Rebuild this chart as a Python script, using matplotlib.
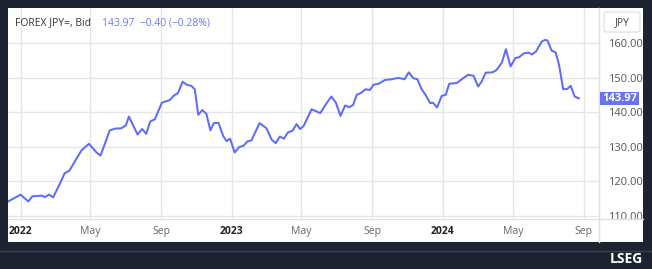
import matplotlib
matplotlib.use('Agg')
import pandas as pd
import matplotlib.pyplot as plt
from matplotlib.patches import Rectangle, FancyBboxPatch
from matplotlib.lines import Line2D

# weekly bid quotes
dates = ['2021-12-10', '2022-01-01', '2022-01-14', '2022-01-21', '2022-02-06', '2022-02-12',
         '2022-02-19', '2022-02-26', '2022-03-09', '2022-03-18', '2022-03-26', '2022-04-16',
         '2022-04-29', '2022-05-12', '2022-05-19', '2022-06-04', '2022-06-13', '2022-06-24',
         '2022-07-02', '2022-07-07', '2022-07-22', '2022-07-30', '2022-08-06', '2022-08-13',
         '2022-08-21', '2022-09-02', '2022-09-16', '2022-09-23', '2022-09-30', '2022-10-08',
         '2022-10-15', '2022-10-23', '2022-10-29', '2022-11-04', '2022-11-11', '2022-11-18',
         '2022-11-25', '2022-12-01', '2022-12-09', '2022-12-17', '2022-12-23', '2022-12-29',
         '2023-01-06', '2023-01-14', '2023-01-21', '2023-01-28', '2023-02-04', '2023-02-18',
         '2023-03-02', '2023-03-11', '2023-03-18', '2023-03-25', '2023-04-01', '2023-04-08',
         '2023-04-16', '2023-04-23', '2023-04-29', '2023-05-05', '2023-05-19', '2023-06-03',
         '2023-06-14', '2023-06-22', '2023-06-30', '2023-07-08', '2023-07-16', '2023-07-23',
         '2023-07-30', '2023-08-05', '2023-08-13', '2023-08-20', '2023-08-28', '2023-09-03',
         '2023-09-12', '2023-09-23', '2023-10-04', '2023-10-16', '2023-10-27', '2023-11-03',
         '2023-11-11', '2023-11-18', '2023-11-25', '2023-12-02', '2023-12-10', '2023-12-15',
         '2023-12-22', '2023-12-30', '2024-01-06', '2024-01-12', '2024-01-25', '2024-02-05',
         '2024-02-14', '2024-02-23', '2024-03-02', '2024-03-08', '2024-03-15', '2024-03-27',
         '2024-04-03', '2024-04-12', '2024-04-19', '2024-04-27', '2024-05-05', '2024-05-12',
         '2024-05-20', '2024-05-28', '2024-06-03', '2024-06-10', '2024-06-20', '2024-06-26',
         '2024-06-30', '2024-07-07', '2024-07-14', '2024-07-20', '2024-07-27', '2024-08-03',
         '2024-08-09', '2024-08-16', '2024-08-23']
bid = [114.1, 116.1, 114.1, 115.6, 115.8, 115.4,
       116.1, 115.3, 119.0, 122.3, 123.0, 128.9,
       130.8, 128.3, 127.4, 134.7, 135.2, 135.3,
       136.2, 138.7, 133.5, 135.1, 133.7, 137.3,
       137.9, 142.7, 143.5, 144.8, 145.5, 148.8,
       147.9, 147.6, 146.6, 139.2, 140.6, 139.5,
       134.7, 136.8, 136.9, 133.1, 131.6, 132.3,
       128.3, 129.9, 130.2, 131.5, 131.8, 136.8,
       135.3, 132.0, 131.0, 132.9, 132.3, 134.1,
       134.6, 136.5, 135.1, 135.9, 140.8, 139.7,
       142.6, 144.5, 142.7, 138.9, 141.9, 141.4,
       142.1, 145.0, 145.6, 146.6, 146.4, 147.9,
       148.2, 149.3, 149.5, 149.9, 149.5, 151.5,
       149.8, 149.5, 146.7, 145.0, 142.6, 142.7,
       141.3, 144.7, 145.0, 148.2, 148.4, 149.8,
       150.8, 150.5, 147.4, 148.8, 151.4, 151.5,
       152.2, 154.3, 158.2, 153.2, 155.6, 155.9,
       157.0, 157.2, 156.7, 157.5, 160.4, 160.9,
       160.7, 157.8, 157.3, 153.6, 146.6, 146.7,
       147.6, 144.5, 143.97]

y_ticks = [110, 120, 130, 140, 150, 160]
x_ticks = ['2022-01-01', '2022-05-01', '2022-09-01', '2023-01-01', '2023-05-01',
           '2023-09-01', '2024-01-01', '2024-05-01', '2024-09-01']
x_labels = ['2022', 'May', 'Sep', '2023', 'May', 'Sep', '2024', 'May', 'Sep']
last = '143.97'
title = 'FOREX JPY=, Bid'
change = '143.97  \u22120.40 (\u22120.28%)'

plt.rcParams['font.family'] = ['Open Sans', 'DejaVu Sans']

W, H = 652.0, 269.0
def fx(px):
    return px / W
def fy(py):
    return 1 - py / H

line_col = '#5d6dfa'
dark = '#1e2331'
grid_col = '#e6e6e6'

fig = plt.figure(figsize=(6.52, 2.69), dpi=100, facecolor=dark)

# white panel (behind the axes)
fig.patches.append(Rectangle((fx(8), fy(242)), fx(643) - fx(8), fy(8) - fy(242),
                             transform=fig.transFigure, facecolor='white',
                             edgecolor='none', zorder=-5))
# thin separator in the footer band
fig.add_artist(Line2D([0, 1], [fy(250.5), fy(250.5)], transform=fig.transFigure,
                      color='#3b404d', lw=1))

ax = fig.add_axes([fx(8), fy(219), fx(599) - fx(8), fy(8) - fy(219)])
ax.set_facecolor('none')
ax.plot(pd.to_datetime(dates), bid, color=line_col, lw=1.45, zorder=3)

ax.set_xlim(pd.Timestamp('2021-12-10'), pd.Timestamp('2024-09-27'))
ax.set_ylim(109.04, 170.13)

ax.set_yticks(y_ticks)
ax.set_yticklabels(['%.2f' % v for v in y_ticks])
ax.set_xticks(pd.to_datetime(x_ticks))
ax.set_xticklabels(x_labels)
ax.grid(True, color=grid_col, lw=1, zorder=0)
ax.tick_params(axis='y', left=False, right=False, labelleft=False, labelright=True,
               pad=3, labelsize=8, labelcolor='#555555')
ax.tick_params(axis='x', length=0, pad=5, labelsize=7.5, labelcolor='#666666')
for lab in ax.get_xticklabels():
    if lab.get_text().isdigit():
        lab.set_fontweight('bold')
        lab.set_color('#222222')

for s in ['top', 'left', 'right']:
    ax.spines[s].set_visible(False)
ax.spines['bottom'].set_color('#e0e0e0')

# right price-scale border and bottom line extension
fig.add_artist(Line2D([fx(599), fx(599)], [fy(8), fy(242)], transform=fig.transFigure,
                      color='#e0e0e0', lw=1))
fig.add_artist(Line2D([fx(599), fx(643)], [fy(219), fy(219)], transform=fig.transFigure,
                      color='#e0e0e0', lw=1))

# title line
fig.text(fx(15), fy(23), title, fontsize=7.5, color='#333333', va='center', ha='left')
fig.text(fx(102), fy(23), change, fontsize=7.5, color='#6b7af5', va='center', ha='left')

# currency box
fig.patches.append(FancyBboxPatch((fx(604), fy(32)), fx(640) - fx(604), fy(12) - fy(32),
                                  boxstyle='round,pad=0,rounding_size=0.006',
                                  transform=fig.transFigure, facecolor='white',
                                  edgecolor='#dddddd', lw=0.8, zorder=2))
fig.text(fx(622), fy(22.5), 'JPY', fontsize=7.5, color='#444444', ha='center', va='center')

# last price tag
fig.patches.append(Rectangle((fx(600), fy(105)), fx(639) - fx(600), fy(92) - fy(105),
                             transform=fig.transFigure, facecolor='#6673f5',
                             edgecolor='none', zorder=2))
fig.text(fx(619.5), fy(98.5), last, fontsize=8, color='white', ha='center',
         va='center', fontweight='bold')

# footer brand
fig.text(fx(643), fy(259), 'LSEG', fontsize=10, color='white', ha='right',
         va='center', fontweight='bold')

fig.savefig('out.png', dpi=100, facecolor=dark)
